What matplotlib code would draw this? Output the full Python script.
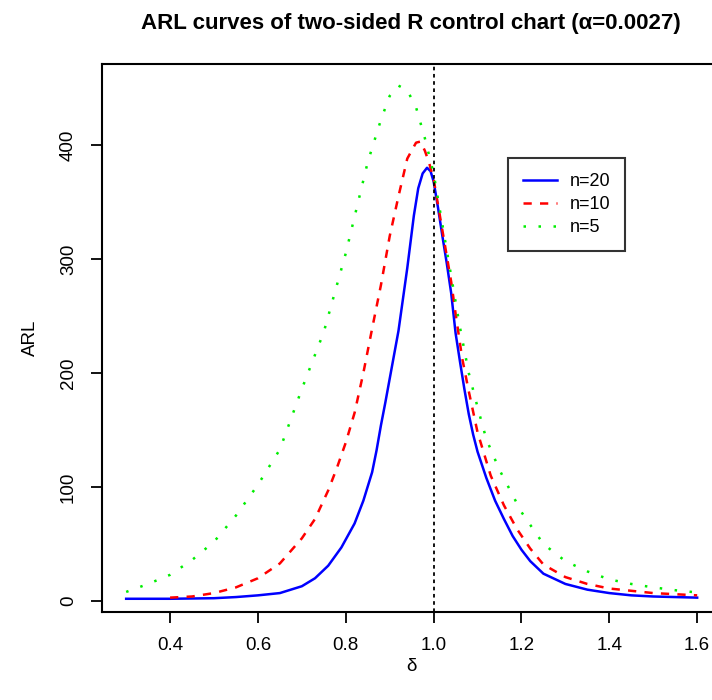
import matplotlib
matplotlib.use('Agg')
import matplotlib.pyplot as plt

plt.rcParams['font.family'] = ['Liberation Sans', 'DejaVu Sans']

# values
delta_20 = [0.30, 0.40, 0.50, 0.55, 0.60, 0.65, 0.70, 0.73, 0.76, 0.79, 0.82, 0.84, 0.86, 0.87,
            0.88, 0.89, 0.90, 0.92, 0.94, 0.955, 0.965, 0.975, 0.985, 0.993, 1.00, 1.01, 1.02,
            1.03, 1.04, 1.05, 1.06, 1.07, 1.08, 1.09, 1.10, 1.12, 1.14, 1.16, 1.18, 1.20, 1.22,
            1.25, 1.30, 1.35, 1.40, 1.45, 1.50, 1.55, 1.60]
arl_20 = [2, 2, 2.5, 3.5, 5, 7, 13, 20, 31, 47, 68, 88, 113, 132,
          154, 174, 195, 237, 292, 338, 362, 375, 380, 377, 368, 345, 320,
          296, 270, 235, 210, 186, 164, 146, 131, 108, 88, 72, 57, 45, 35,
          24, 15, 10, 7, 5, 4, 3.5, 3]

delta_10 = [0.40, 0.45, 0.50, 0.55, 0.60, 0.65, 0.70, 0.73, 0.76, 0.78, 0.80, 0.82, 0.84, 0.86,
            0.88, 0.90, 0.92, 0.94, 0.96, 0.97, 0.98, 0.99, 1.00, 1.02, 1.04, 1.05, 1.065, 1.08,
            1.10, 1.13, 1.16, 1.19, 1.22, 1.25, 1.30, 1.35, 1.40, 1.45, 1.50, 1.55, 1.60]
arl_10 = [3, 4, 7, 12, 20, 33, 55, 72, 97, 117, 139, 165, 200, 239,
          277, 320, 355, 388, 402, 403, 395, 384, 370, 325, 280, 252, 213, 184,
          148, 110, 84, 63, 46, 32, 21, 15, 11, 9, 7, 6, 5]

delta_5 = [0.30, 0.35, 0.40, 0.45, 0.50, 0.55, 0.60, 0.65, 0.70, 0.75, 0.80, 0.85, 0.88, 0.90,
           0.92, 0.94, 0.96, 0.98, 1.00, 1.02, 1.04, 1.06, 1.08, 1.10, 1.12, 1.15, 1.20, 1.25,
           1.30, 1.35, 1.40, 1.45, 1.50, 1.55, 1.60]
arl_5 = [8, 15, 23, 36, 52, 75, 102, 133, 186, 236, 305, 385, 422, 443,
         452, 448, 433, 406, 375, 330, 285, 240, 200, 170, 142, 115, 78, 50,
         35, 26, 19, 15, 12, 9.5, 7.5]

fig = plt.figure(figsize=(7.12, 7.0), dpi=100)
ax = fig.add_axes([102 / 712, 88 / 700, 618 / 712, 548 / 700])

ax.plot(delta_20, arl_20, color='blue', lw=1.8, ls='-', label='n=20')
ax.plot(delta_10, arl_10, color='red', lw=1.8, ls=(0, (3.3, 3.3)), label='n=10')
ax.plot(delta_5, arl_5, color='#00ee00', lw=1.8, ls=(0, (1, 5)), label='n=5')
ax.axvline(1.0, color='black', lw=1.3, ls=(0, (2, 2)))

ax.set_xlim(0.245, 1.652)
ax.set_ylim(-9.6, 471)
ax.set_xticks([0.4, 0.6, 0.8, 1.0, 1.2, 1.4, 1.6])
ax.set_yticks([0, 100, 200, 300, 400])
ax.set_yticklabels(['0', '100', '200', '300', '400'], rotation=90, va='center')
ax.tick_params(direction='out', length=8, width=1.3, labelsize=13.5)
ax.tick_params(axis='x', pad=10)
ax.tick_params(axis='y', pad=10)
for s in ax.spines.values():
    s.set_linewidth(1.5)

ax.set_xlabel('δ', fontsize=13.5, labelpad=3)
ax.set_ylabel('ARL', fontsize=13.5, labelpad=15)
ax.set_title('ARL curves of two-sided R control chart (α=0.0027)', fontsize=16,
             fontweight='bold', pad=25)

leg = ax.legend(loc='upper left', bbox_to_anchor=((508 - 102) / 618, (612 - 158) / 548),
                frameon=True, fancybox=False, edgecolor='black', fontsize=13,
                handlelength=1.85, handletextpad=0.7, labelspacing=0.32, borderpad=0.85,
                borderaxespad=0)
leg.get_frame().set_linewidth(1.5)

fig.savefig('out.png', dpi=100)
